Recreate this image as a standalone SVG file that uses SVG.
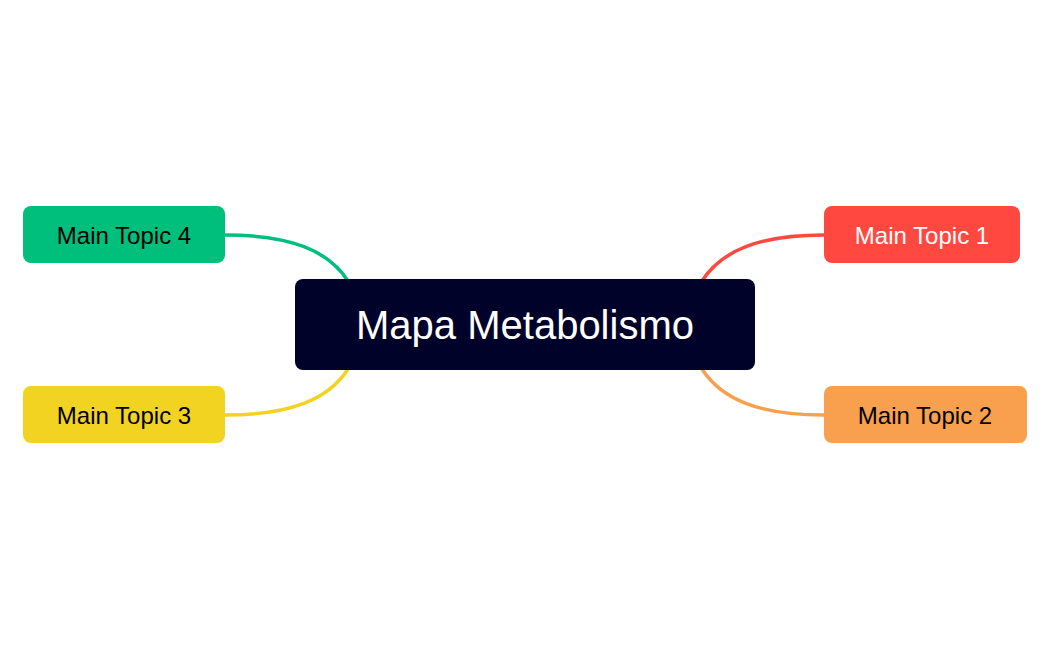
<svg xmlns="http://www.w3.org/2000/svg" width="1050" height="650" viewBox="0 0 1050 650">
<style>
.t{font-family:"Liberation Sans",Arial,sans-serif;font-size:24px;text-anchor:middle;dominant-baseline:central}
.c{fill:none;stroke-width:3.5}
</style>
<rect width="1050" height="650" fill="#fff"/>
<g id="connectors">
<path class="c" stroke="#FF4940" d="M702,281 C722,250 760,235 824,235"/>
<path class="c" stroke="#F8A04E" d="M702,369 C722,400 760,415 824,415"/>
<path class="c" stroke="#F3D321" d="M348,369 C328,400 290,415 225,415"/>
<path class="c" stroke="#00BF7D" d="M348,281 C328,250 290,235 225,235"/>
</g>
<g id="center"><rect x="295" y="279" width="460" height="91" rx="8" fill="#000229"/><text class="t" x="525" y="325" font-size="40" fill="#fff" style="font-size:40px">Mapa Metabolismo</text></g>
<g id="topic1"><rect x="824" y="206" width="196" height="57" rx="8" fill="#FF4940"/><text class="t" x="922" y="235" fill="#fff">Main Topic 1</text></g>
<g id="topic2"><rect x="824" y="386" width="203" height="57" rx="8" fill="#F8A04E"/><text class="t" x="925" y="415" fill="#000">Main Topic 2</text></g>
<g id="topic3"><rect x="23" y="386" width="202" height="57" rx="8" fill="#F3D321"/><text class="t" x="124" y="415" fill="#000">Main Topic 3</text></g>
<g id="topic4"><rect x="23" y="206" width="202" height="57" rx="8" fill="#00BF7D"/><text class="t" x="124" y="235" fill="#000">Main Topic 4</text></g>
</svg>
